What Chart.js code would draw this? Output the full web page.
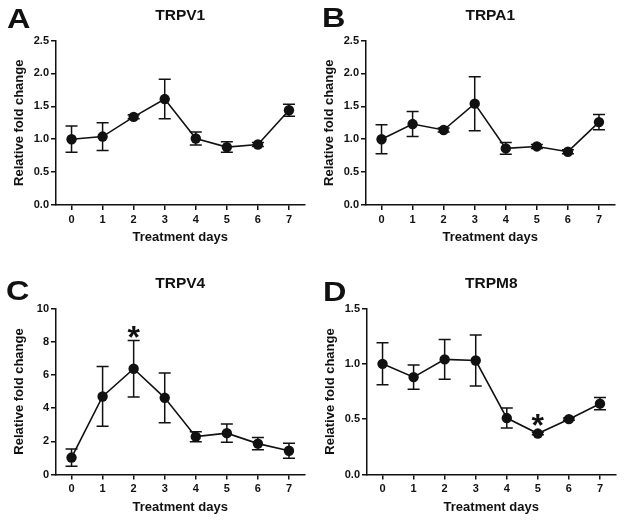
<!DOCTYPE html>
<html>
<head>
<meta charset="utf-8">
<script src="https://cdn.jsdelivr.net/npm/chart.js@4"></script>
<style>
  body { margin: 0; background: #fff; }
  #figure { position: relative; width: 624px; height: 520px; overflow: hidden; font-family: "Liberation Sans", Arial, sans-serif; }
  .panel { position: absolute; }
  .letter { position: absolute; font-weight: bold; font-size: 27px; line-height: 1; color: #111; transform: scaleX(1.2); transform-origin: left top; }
</style>
</head>
<body>
<div id="figure">
  <div class="panel" style="left:0;top:0"><canvas id="chart-a" width="312" height="250"></canvas></div>
  <div class="panel" style="left:310px;top:0"><canvas id="chart-b" width="312" height="250"></canvas></div>
  <div class="panel" style="left:0;top:268px"><canvas id="chart-c" width="312" height="252"></canvas></div>
  <div class="panel" style="left:311px;top:268px"><canvas id="chart-d" width="312" height="252"></canvas></div>
  <div class="letter" style="left:7px;top:6px">A</div>
  <div class="letter" style="left:322px;top:5px">B</div>
  <div class="letter" style="left:6px;top:278px">C</div>
  <div class="letter" style="left:323px;top:279px">D</div>
</div>
<script>
const days = [0, 1, 2, 3, 4, 5, 6, 7];

const trpv1Mean = [1.00, 1.04, 1.34, 1.61, 1.01, 0.88, 0.92, 1.44];
const trpv1Sem = [0.20, 0.21, 0.03, 0.30, 0.10, 0.08, 0.03, 0.09];

const trpa1Mean = [1.00, 1.23, 1.14, 1.54, 0.86, 0.89, 0.81, 1.26];
const trpa1Sem = [0.22, 0.19, 0.03, 0.41, 0.09, 0.03, 0.03, 0.115];

const trpv4Mean = [1.02, 4.70, 6.37, 4.62, 2.28, 2.49, 1.86, 1.43];
const trpv4Sem = [0.52, 1.80, 1.70, 1.50, 0.30, 0.55, 0.37, 0.45];
const trpv4Sig = [2];

const trpm8Mean = [1.00, 0.88, 1.04, 1.03, 0.51, 0.37, 0.50, 0.64];
const trpm8Sem = [0.19, 0.11, 0.18, 0.23, 0.09, 0.01, 0.01, 0.055];
const trpm8Sig = [5];

const ticksFold = [0, 0.5, 1.0, 1.5, 2.0, 2.5];
const ticksV4 = [0, 2, 4, 6, 8, 10];
const ticksM8 = [0, 0.5, 1.0, 1.5];

const ink = "#111";
const family = "'Liberation Sans', Arial, sans-serif";

// SEM whiskers under the markers, asterisks over them
const errorBars = {
  id: "errorBars",
  beforeDatasetsDraw(chart, args, opts) {
    const { ctx, scales: { x, y } } = chart;
    const means = opts.means || [];
    const sems = opts.sems || [];
    ctx.save();
    ctx.strokeStyle = ink;
    ctx.lineWidth = 1.5;
    days.forEach((d, i) => {
      const px = x.getPixelForValue(d);
      const top = y.getPixelForValue(means[i] + sems[i]);
      const bot = y.getPixelForValue(means[i] - sems[i]);
      ctx.beginPath();
      ctx.moveTo(px, top); ctx.lineTo(px, bot);
      ctx.moveTo(px - 6, top); ctx.lineTo(px + 6, top);
      ctx.moveTo(px - 6, bot); ctx.lineTo(px + 6, bot);
      ctx.stroke();
    });
    ctx.restore();
  },
  afterDatasetsDraw(chart, args, opts) {
    const { ctx, scales: { x, y } } = chart;
    const means = opts.means || [];
    const sems = opts.sems || [];
    ctx.save();
    ctx.fillStyle = ink;
    ctx.font = "bold 32px " + family;
    ctx.textAlign = "center";
    ctx.textBaseline = "alphabetic";
    (opts.sig || []).forEach((i) => {
      const px = x.getPixelForValue(days[i]);
      const cap = y.getPixelForValue(means[i] + sems[i]);
      const mark = y.getPixelForValue(means[i]) - 5;
      const center = Math.min(cap, mark) - 10.5;
      ctx.fillText("*", px, center + 18);
    });
    ctx.restore();
  },
};

function axisLook() {
  return {
    grid: { display: true, drawOnChartArea: false, drawTicks: true, tickLength: 5, color: ink, lineWidth: 1.5 },
    border: { display: true, color: ink, width: 1.5 },
  };
}

function makePanel(id, title, means, sems, yMax, yTicks, decimals, sig, xHeight) {
  const canvas = document.getElementById(id);
  return new Chart(canvas, {
    type: "line",
    data: {
      datasets: [{
        data: days.map((d, i) => ({ x: d, y: means[i] })),
        borderColor: ink,
        backgroundColor: ink,
        borderWidth: 1.6,
        pointRadius: 5.2,
        pointBackgroundColor: ink,
        pointBorderWidth: 0,
        tension: 0,
      }],
    },
    options: {
      responsive: false,
      animation: false,
      layout: { padding: { left: 0, right: 7.5, top: 0, bottom: 0 } },
      plugins: {
        legend: { display: false },
        tooltip: { enabled: false },
        title: {
          display: true,
          text: title,
          fullSize: false,
          color: ink,
          font: { family, size: 15.5, weight: "bold" },
          padding: { top: 6.5, bottom: 15.4 },
        },
        errorBars: { means, sems, sig },
      },
      scales: {
        x: {
          type: "linear",
          min: -0.5,
          max: 7.5,
          afterBuildTicks: (s) => { s.ticks = days.map((v) => ({ value: v })); },
          afterFit: (s) => { s.height = xHeight; },
          ticks: { color: ink, font: { family, size: 11, weight: "bold" }, padding: 3, autoSkip: false },
          title: { display: true, text: "Treatment days", color: ink, font: { family, size: 13, weight: "bold" }, padding: { top: 0, bottom: 5.2 } },
          ...axisLook(),
        },
        y: {
          min: 0,
          max: yMax,
          afterBuildTicks: (s) => { s.ticks = yTicks.map((v) => ({ value: v })); },
          afterFit: (s) => { s.width = 56; },
          ticks: { color: ink, font: { family, size: 11, weight: "bold" }, padding: 2, callback: (v) => Number(v).toFixed(decimals) },
          title: { display: true, text: "Relative fold change", color: ink, font: { family, size: 13, weight: "bold" }, padding: { top: 12, bottom: 0 } },
          ...axisLook(),
        },
      },
    },
    plugins: [errorBars],
  });
}

makePanel("chart-a", "TRPV1", trpv1Mean, trpv1Sem, 2.5, ticksFold, 1, [], 45);
makePanel("chart-b", "TRPA1", trpa1Mean, trpa1Sem, 2.5, ticksFold, 1, [], 45);
makePanel("chart-c", "TRPV4", trpv4Mean, trpv4Sem, 10, ticksV4, 0, trpv4Sig, 45.5);
makePanel("chart-d", "TRPM8", trpm8Mean, trpm8Sem, 1.5, ticksM8, 1, trpm8Sig, 45.5);
</script>
</body>
</html>
